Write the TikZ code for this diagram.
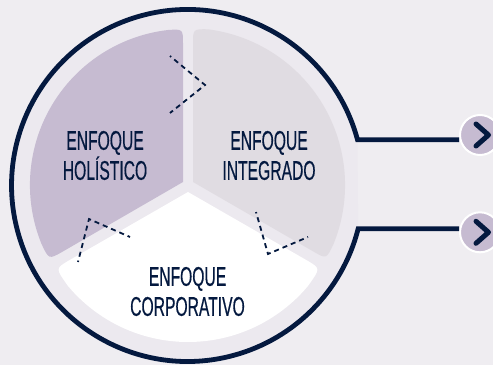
\documentclass[tikz,border=0pt]{standalone}
\usepackage{fontspec}
\newfontfamily\lblfont[FakeStretch=0.58,FakeBold=0.4]{Liberation Sans}
\definecolor{pagebg}{HTML}{EFEDF1}
\definecolor{ringbg}{HTML}{ECE9EF}
\definecolor{navy}{HTML}{04193F}
\definecolor{lilac}{HTML}{C6BBD1}
\definecolor{greyish}{HTML}{E0DCE2}
\tikzset{
    lbl/.style={font=\lblfont\fontsize{27}{30}\selectfont,text=navy,align=center,inner sep=0pt},
    ringline/.style={draw=navy,line width=4.8pt,miter limit=10},
    cutline/.style={draw=navy,line width=1.8pt,dash pattern=on 5pt off 4pt,dash phase=3.5pt},
    btn/.style={circle,fill=lilac,draw=white,line width=2pt,minimum size=40pt,inner sep=0pt},
    chevron/.style={draw=navy,line width=5pt,line cap=round,line join=round}
}
\begin{document}
\begin{tikzpicture}[x=1pt,y=1pt]
        \useasboundingbox (0,0) rectangle (493,365);
        \fill[pagebg] (0,0) rectangle (493,365);
        \coordinate (ja) at (357.5,225.3);
        \coordinate (jb) at (357.5,136.3);
        %% inner disc
        \fill[ringbg] (ja) arc[start angle=15.08,end angle=345.8,radius=176] -- cycle;
        %% three sectors
        \fill[lilac] (183,183) -- (183,321) .. controls (183,336) .. (168,335)
            arc[start angle=96.6,end angle=202,radius=156] .. controls (48.8,105.5) .. (62,113) -- cycle;
        \fill[greyish] (193,183) -- (193,321) .. controls (193,336) .. (208,335.7)
            arc[start angle=82.7,end angle=-22,radius=157] .. controls (326.4,106) .. (314.2,113) -- cycle;
        \fill[white] (188,173) -- (68,104) .. controls (55.5,96.5) .. (68.1,78.9)
            arc[start angle=220,end angle=320,radius=156.5] .. controls (320.5,96.5) .. (308,104) -- cycle;
        %% buttons
        \node[btn] (btna) at (480,230) {};
        \node[btn] (btnb) at (480,132.7) {};
        \draw[chevron] (476,241) -- (488.5,230) -- (476,219);
        \draw[chevron] (476,143.7) -- (488.5,132.7) -- (476,121.7);
        %% outer ring
        \draw[ringline] (btna.west |- ja) -- (ja) arc[start angle=15.08,end angle=345.8,radius=176] -- (btnb.west |- jb);
        %% cut marks
        \draw[cutline] (170,309) -- (205,280) -- (170,252);
        \draw[cutline] (78,103) -- (89,146) -- (130,128);
        \draw[cutline] (256,153) -- (268,111) -- (308,128);
        %% labels
        \node[lbl] (holistico) at (105,209.5) {ENFOQUE\\HOLÍSTICO};
        \node[lbl] (integrado) at (269,209.5) {ENFOQUE\\INTEGRADO};
        \node[lbl] (corporativo) at (187.5,73.5) {ENFOQUE\\CORPORATIVO};
\end{tikzpicture}
\end{document}
